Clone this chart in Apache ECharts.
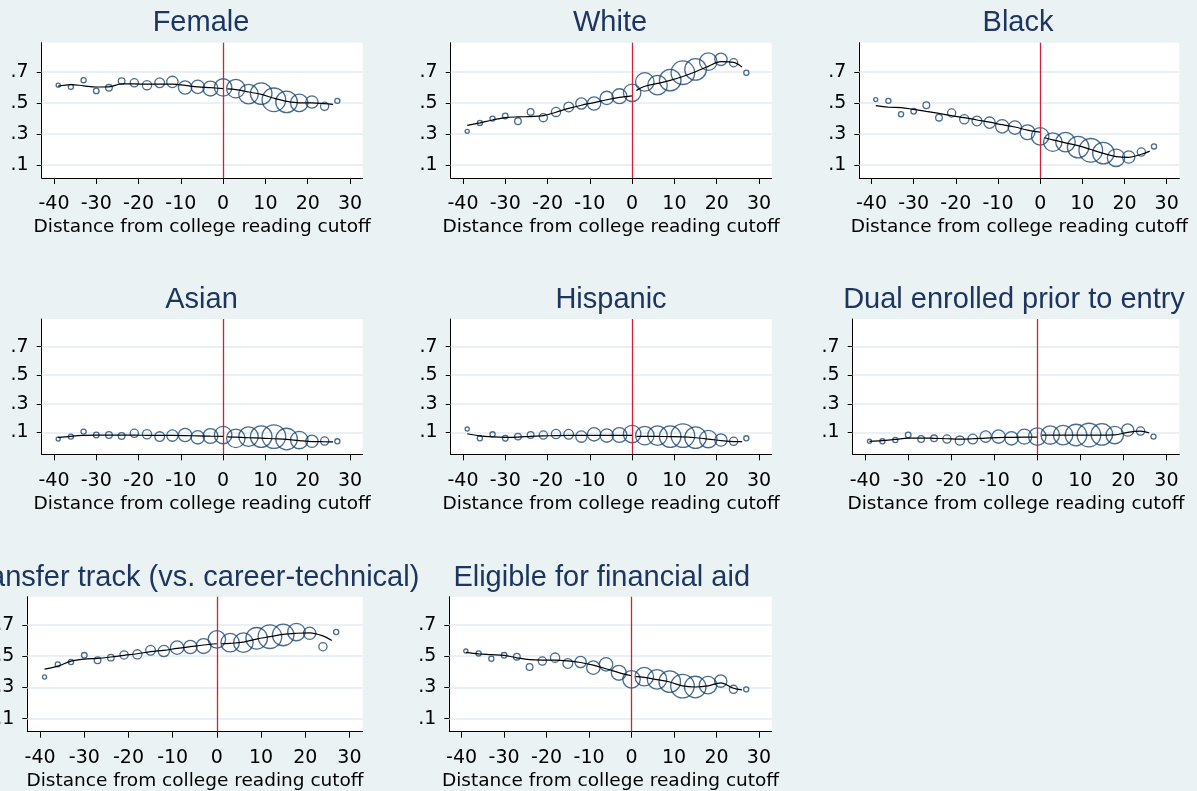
<!DOCTYPE html>
<html>
<head>
<meta charset="utf-8">
<script src="https://cdn.jsdelivr.net/npm/echarts@6/dist/echarts.min.js"></script>
<style>
html,body{margin:0;padding:0;background:#eaf2f3;}
#chart{width:1197px;height:791px;}
</style>
</head>
<body>
<div id="chart"></div>
<script>
// ---------------- data ----------------
const distance = [-39,-36,-33,-30,-27,-24,-21,-18,-15,-12,-9,-6,-3,0,3,6,9,12,15,18,21,24,27];
const binN = [160,250,250,300,420,420,640,810,900,1210,1690,1690,2100,2890,3240,3610,4410,5290,4410,2890,1440,640,250];
const leftFitX = [-39,-36,-33,-30,-27,-24,-21,-18,-15,-12,-9,-6,-3,0];
const rightFitX = [1,3,6,9,12,15,18,21,24,26];
const cutoff = [0];
const xTicks = [-40,-30,-20,-10,0,10,20,30];
const yTicks = [0.1,0.3,0.5,0.7];
const panelTitles = ["Female","White","Black","Asian","Hispanic","Dual enrolled prior to entry","Transfer track (vs. career-technical)","Eligible for financial aid"];
const xAxisTitle = "Distance from college reading cutoff";

const female = [.614,.603,.646,.577,.597,.640,.629,.614,.629,.635,.599,.603,.592,.599,.592,.556,.560,.520,.506,.500,.506,.478,.513];
const femaleFitL = [.608,.618,.610,.602,.603,.622,.622,.620,.620,.620,.612,.603,.598,.592];
const femaleFitR = [.590,.585,.570,.555,.530,.510,.500,.500,.495,.490];

const white = [.317,.371,.399,.416,.382,.442,.405,.442,.474,.496,.496,.532,.543,.565,.635,.614,.646,.694,.715,.765,.780,.758,.694];
const whiteFitL = [.355,.372,.390,.405,.410,.412,.418,.440,.465,.485,.502,.520,.535,.545];
const whiteFitR = [.580,.607,.625,.645,.670,.700,.735,.765,.760,.730];

const black = [.521,.513,.427,.446,.485,.405,.435,.395,.384,.373,.349,.341,.311,.285,.248,.248,.216,.195,.177,.147,.152,.184,.220];
const blackFitL = [.482,.472,.470,.458,.445,.432,.418,.405,.390,.376,.360,.345,.325,.312];
const blackFitR = [.276,.262,.243,.225,.200,.175,.155,.150,.170,.190];

const asian = [.053,.070,.105,.081,.081,.074,.093,.086,.070,.077,.081,.065,.074,.081,.058,.070,.070,.070,.053,.046,.037,.039,.037];
const asianFitL = [.063,.072,.078,.080,.080,.080,.080,.079,.078,.078,.077,.075,.073,.072];
const asianFitR = [.068,.066,.062,.060,.055,.050,.042,.035,.034,.033];

const hispanic = [.123,.058,.086,.058,.070,.081,.081,.088,.086,.070,.086,.077,.081,.088,.077,.077,.070,.077,.063,.053,.046,.037,.058];
const hispanicFitL = [.090,.075,.068,.065,.067,.072,.075,.077,.078,.078,.078,.078,.078,.078];
const hispanicFitR = [.072,.072,.071,.070,.068,.062,.053,.042,.035,.035];

const dual = [.037,.037,.046,.081,.053,.058,.053,.042,.053,.070,.070,.058,.070,.070,.081,.081,.081,.081,.086,.081,.116,.109,.070];
const dualFitL = [.037,.042,.050,.060,.060,.058,.055,.052,.055,.060,.063,.065,.066,.066];
const dualFitR = [.080,.080,.081,.081,.081,.081,.082,.100,.108,.096];

const transfer = [.367,.448,.463,.506,.474,.491,.508,.512,.538,.533,.555,.559,.565,.608,.587,.587,.615,.625,.636,.655,.647,.561,.655];
const transferFitL = [.418,.437,.469,.482,.486,.495,.506,.516,.529,.538,.550,.561,.572,.580];
const transferFitR = [.580,.582,.590,.610,.625,.640,.647,.650,.630,.600];

const finaid = [.533,.518,.484,.506,.497,.431,.469,.491,.454,.463,.427,.448,.394,.352,.369,.352,.337,.309,.303,.315,.341,.288,.288];
const finaidFitL = [.525,.515,.510,.505,.490,.478,.475,.475,.470,.460,.443,.420,.395,.375];
const finaidFitR = [.370,.365,.350,.335,.310,.303,.310,.330,.295,.285];

const panelPoints = [female, white, black, asian, hispanic, dual, transfer, finaid];
const panelFitL = [femaleFitL, whiteFitL, blackFitL, asianFitL, hispanicFitL, dualFitL, transferFitL, finaidFitL];
const panelFitR = [femaleFitR, whiteFitR, blackFitR, asianFitR, hispanicFitR, dualFitR, transferFitR, finaidFitR];

// ---------------- layout ----------------
const rows = [
  {top: 42.7, bottom: 178, ymin: 0.017, ymax: 0.887, titleY: 23},
  {top: 319, bottom: 454.3, ymin: -0.054, ymax: 0.894, titleY: 299.5},
  {top: 596.7, bottom: 731.7, ymin: 0.017, ymax: 0.881, titleY: 578}
];
const boxes = [
  {l: 41.7, r: 362.7, row: 0, tx: 201},
  {l: 450.7, r: 771.7, row: 0, tx: 610},
  {l: 859.3, r: 1179.3, row: 0, tx: 1018},
  {l: 41.7, r: 362.7, row: 1, tx: 201.5},
  {l: 450.7, r: 771.7, row: 1, tx: 611},
  {l: 852.7, r: 1179.3, row: 1, tx: 1014},
  {l: 27.3, r: 362.7, row: 2, tx: 191},
  {l: 449.3, r: 771.7, row: 2, tx: 601.7}
];

const NAVY = '#1a476f';
const TITLE_COLOR = '#1e3560';
const GRIDLINE = '#e3edf0';
const CUTOFF_RED = '#d0213a';
const TICK_FONT = 'DejaVu Sans';

const grids = [], xAxes = [], yAxes = [], series = [], graphics = [];
boxes.forEach((b, i) => {
  const rw = rows[b.row];
  grids.push({
    left: b.l, top: rw.top, width: b.r - b.l, height: rw.bottom - rw.top,
    show: true, backgroundColor: '#ffffff', borderWidth: 0,
    containLabel: false, outerBoundsMode: 'none'
  });
  xAxes.push({
    gridIndex: i, type: 'value', min: -42.9, max: 33.0,
    name: xAxisTitle, nameLocation: 'middle', nameGap: 40,
    nameTextStyle: {fontFamily: TICK_FONT, fontSize: 18.5, color: '#000'},
    axisLine: {show: true, onZero: false, lineStyle: {color: '#000', width: 1}},
    axisTick: {show: true, length: 6, inside: false, customValues: xTicks, lineStyle: {color: '#000', width: 1}},
    axisLabel: {show: true, customValues: xTicks, margin: 17, fontFamily: TICK_FONT, fontSize: 19, color: '#000',
      formatter: v => String(v)},
    splitLine: {show: false}
  });
  yAxes.push({
    gridIndex: i, type: 'value', min: rw.ymin, max: rw.ymax,
    axisLine: {show: true, onZero: false, lineStyle: {color: '#000', width: 1}},
    axisTick: {show: true, length: 5, inside: false, customValues: yTicks, lineStyle: {color: '#000', width: 1}},
    axisLabel: {show: true, customValues: yTicks, margin: 13, fontFamily: TICK_FONT, fontSize: 19, color: '#000',
      formatter: v => String(Math.round(v * 10) / 10).replace(/^0\./, '.')},
    splitLine: {show: false}
  });
  const pts = panelPoints[i];
  series.push({
    type: 'scatter', xAxisIndex: i, yAxisIndex: i, z: 2,
    data: distance.map((x, k) => [x, pts[k]]),
    symbol: 'circle',
    symbolSize: (val, params) => Math.sqrt(binN[params.dataIndex] / 9.5),
    itemStyle: {color: 'rgba(255,255,255,0)', borderColor: NAVY, borderWidth: 1.3},
    silent: true,
    markLine: {
      silent: true, z: 1, symbol: ['none', 'none'], label: {show: false},
      lineStyle: {color: GRIDLINE, width: 1.5, type: 'solid'},
      emphasis: {disabled: true},
      data: yTicks.map(v => ({yAxis: v}))
    }
  });
  const fl = panelFitL[i], fr = panelFitR[i];
  series.push({
    type: 'line', xAxisIndex: i, yAxisIndex: i, z: 3,
    data: leftFitX.map((x, k) => [x, fl[k]]),
    showSymbol: false, smooth: 0.35, silent: true,
    lineStyle: {color: '#000', width: 1.2}
  });
  series.push({
    type: 'line', xAxisIndex: i, yAxisIndex: i, z: 3,
    data: rightFitX.map((x, k) => [x, fr[k]]),
    showSymbol: false, smooth: 0.35, silent: true,
    lineStyle: {color: '#000', width: 1.2},
    markLine: {
      silent: true, z: 6, symbol: ['none', 'none'], label: {show: false},
      emphasis: {disabled: true},
      data: cutoff.map(c => ({xAxis: c, lineStyle: {color: CUTOFF_RED, width: 1.3, type: 'solid'}}))
    }
  });
  graphics.push({
    type: 'text', x: b.tx, y: rw.titleY, silent: true,
    style: {text: panelTitles[i], fontFamily: 'Liberation Sans', fontSize: 29, fill: TITLE_COLOR,
      align: 'center', verticalAlign: 'middle'}
  });
});

const chart = echarts.init(document.getElementById('chart'), null, {renderer: 'canvas'});
chart.setOption({
  backgroundColor: '#eaf2f3',
  animation: false,
  grid: grids,
  xAxis: xAxes,
  yAxis: yAxes,
  series: series,
  graphic: graphics
});
</script>
</body>
</html>
